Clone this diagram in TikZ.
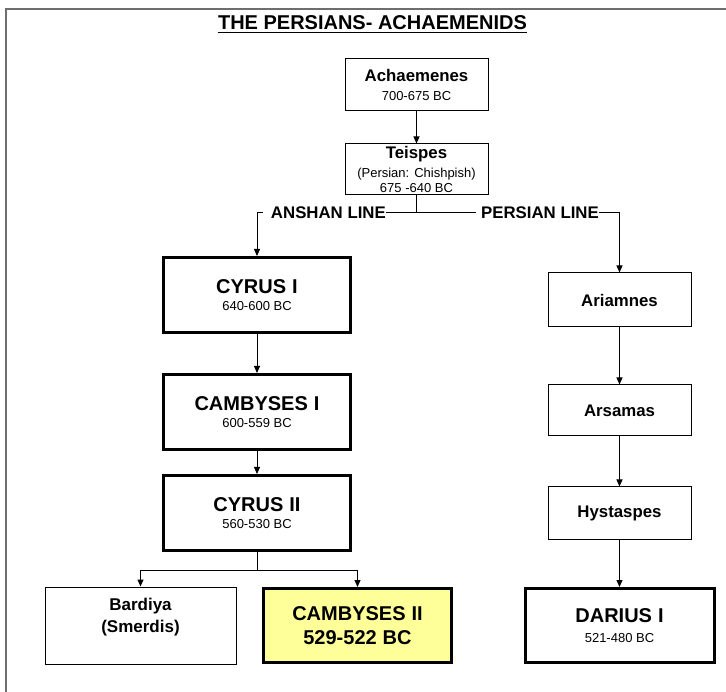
\documentclass[tikz,border=0pt]{standalone}
\usepackage{fontspec}
\setmainfont{Liberation Sans}
\usetikzlibrary{arrows.meta}
\definecolor{framegray}{RGB}{110,110,110}
\definecolor{paleyellow}{RGB}{255,255,153}
\newcommand\BoxB[3]{{\fontsize{#1}{#2}\selectfont\bfseries\spaceskip=0.3em\relax #3\par}}
\newcommand\BoxR[3]{{\fontsize{#1}{#2}\selectfont\spaceskip=0.28em\relax #3\par}}
\begin{document}
\begin{tikzpicture}[x=1pt,y=-1pt,
  thinbox/.style={draw=black, line width=1pt, fill=white, inner sep=0pt, align=center},
  thickbox/.style={draw=black, line width=3pt, fill=white, inner sep=0pt, align=center},
  conn/.style={line width=1pt, -{Triangle[length=7pt,width=6pt]}},
  plain/.style={line width=1pt},
  lbl/.style={fill=white, inner sep=0pt, font=\fontsize{16.8}{17}\selectfont\bfseries}
]
\useasboundingbox (0,0) rectangle (726,692);
% frame
\draw[framegray, line width=2pt] (6,692) -- (6,9) -- (726,9);
% title
\node[inner sep=0pt, anchor=base] (title) at (372.5,29.5) {\fontsize{20}{20}\selectfont\bfseries THE PERSIANS- ACHAEMENIDS};
\draw[line width=1.6pt] ([yshift=-3pt]title.base west) -- ([yshift=-3pt]title.base east);

% boxes
\node[thinbox, minimum width=143pt, minimum height=52pt, text width=135pt] (ach) at (416.5,85)
  {\BoxB{16.8}{17}{Achaemenes}\BoxR{13}{18.7}{700-675 BC}};
\node[thinbox, minimum width=143pt, minimum height=51pt, text width=135pt] (tei) at (416.5,169.5)
  {\BoxB{16.8}{17}{Teispes}\BoxR{13}{19}{(Persian: Chishpish)}\BoxR{13}{14.5}{675 -640 BC}};

\node[thickbox, minimum width=187pt, minimum height=75pt, text width=175pt] (cyr1) at (257,295)
  {\BoxB{20}{20}{CYRUS I}\BoxR{13}{17.6}{640-600 BC}};
\node[thickbox, minimum width=187pt, minimum height=75pt, text width=175pt] (camb1) at (257,412)
  {\BoxB{20}{20}{CAMBYSES I}\BoxR{13}{17.6}{600-559 BC}};
\node[thickbox, minimum width=187pt, minimum height=75pt, text width=175pt] (cyr2) at (257,513)
  {\BoxB{20}{20}{CYRUS II}\BoxR{13}{17.6}{560-530 BC}};

\node[thinbox, minimum width=191pt, minimum height=77pt, text width=180pt] (bard) at (140.5,625.5)
  {\BoxB{17}{22}{Bardiya}\BoxB{17}{22}{(Smerdis)}\BoxB{17}{20}{\mbox{}}};
\node[thickbox, fill=paleyellow, minimum width=188pt, minimum height=74pt, text width=175pt] (camb2) at (357.5,625.5)
  {\BoxB{20}{20}{CAMBYSES II}\BoxB{20}{24}{529-522 BC}};

\node[thinbox, minimum width=143pt, minimum height=54pt, text width=135pt] (ari) at (619.5,300)
  {\BoxB{16.8}{17}{Ariamnes}};
\node[thinbox, minimum width=143pt, minimum height=51pt, text width=135pt] (ars) at (619.5,410.5)
  {\BoxB{16.8}{17}{Arsamas}};
\node[thinbox, minimum width=143pt, minimum height=52pt, text width=135pt] (hys) at (619.5,513)
  {\BoxB{16.8}{17}{Hystaspes}};
\node[thickbox, minimum width=189pt, minimum height=74pt, text width=175pt] (dar) at (619.5,625.5)
  {\BoxB{20}{20}{DARIUS I}\BoxR{13}{20}{521-480 BC}};

% connectors
\draw[conn] (ach.south) -- (tei.north);
\coordinate (tsplit) at (416.5,213);
\draw[plain] (tei.south) -- (tsplit);
\draw[conn] (tsplit) -| (cyr1.north);
\draw[conn] (tsplit) -| (ari.north);
\node[lbl, anchor=east] (anshan) at (386,213) {\hspace{8pt}ANSHAN LINE};
\node[lbl, anchor=east] (persian) at (599,213) {\hspace{5pt}PERSIAN LINE};

\draw[conn] (cyr1.south) -- (camb1.north);
\draw[conn] (camb1.south) -- (cyr2.north);
\coordinate (csplit) at (257,570);
\draw[plain] (cyr2.south) -- (csplit);
\draw[conn] (csplit) -| (bard.north);
\draw[conn] (csplit) -| (camb2.north);

\draw[conn] (ari.south) -- (ars.north);
\draw[conn] (ars.south) -- (hys.north);
\draw[conn] (hys.south) -- (dar.north);
\end{tikzpicture}
\end{document}
